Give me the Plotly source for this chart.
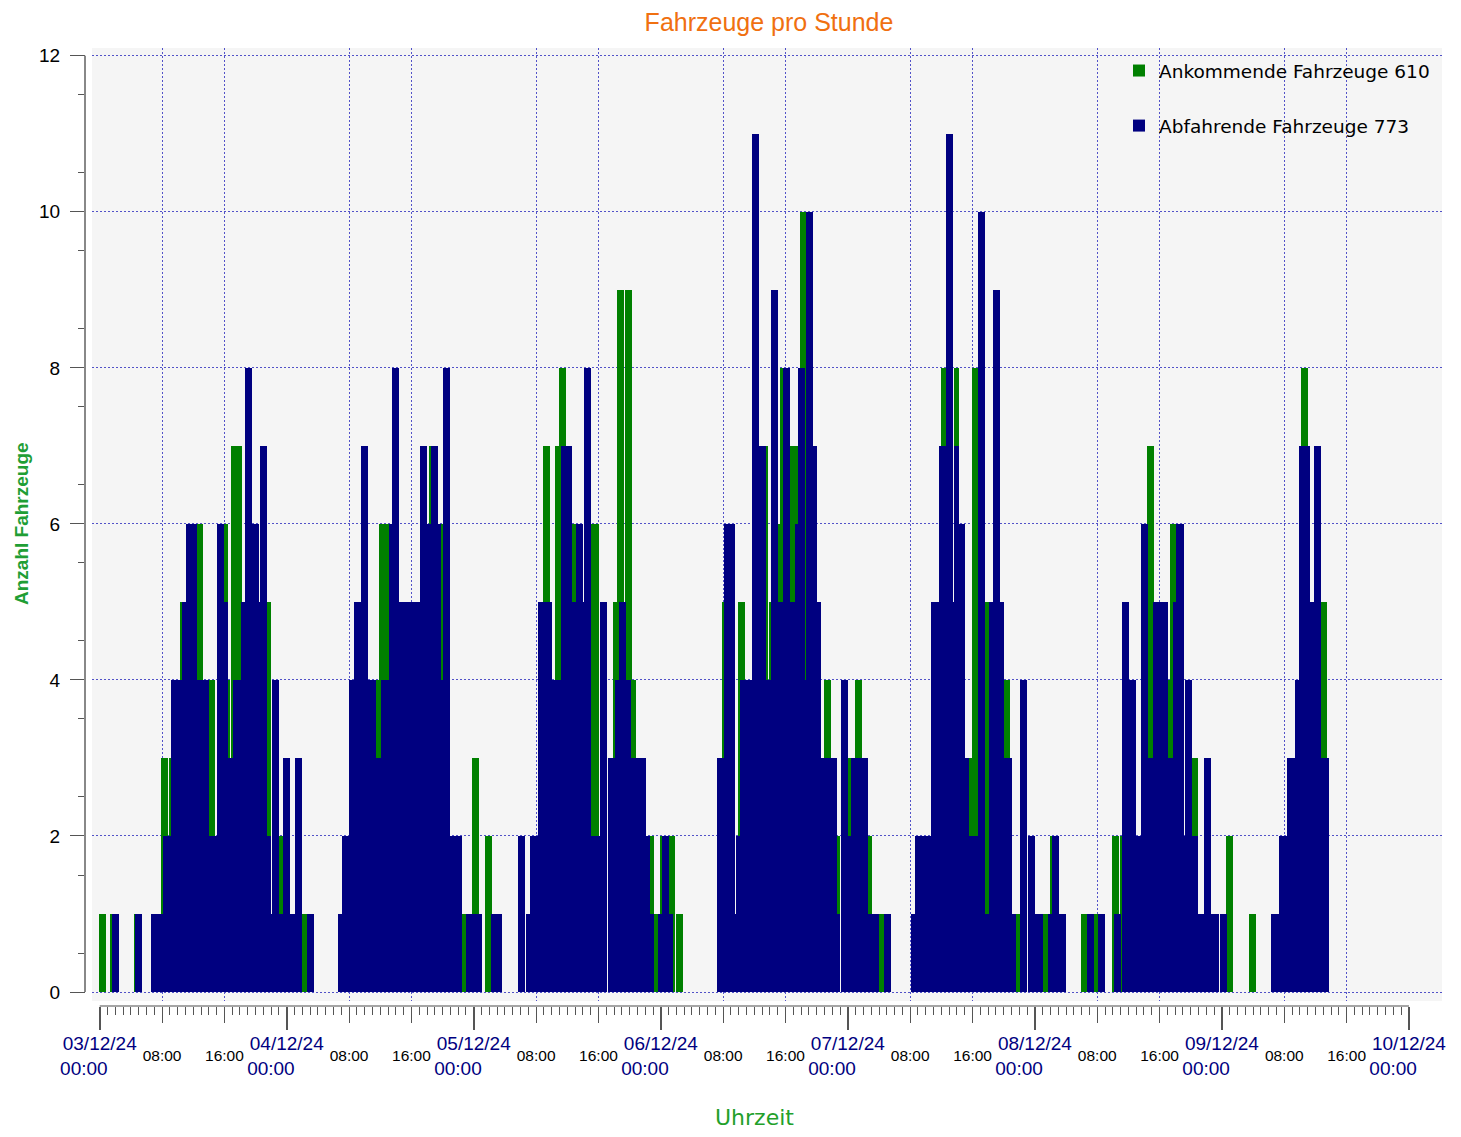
import plotly.graph_objects as go

# Time axis: hours since 03/12/24 00:00
# Ankommende Fahrzeuge (arrivals): visible segments (start hour, end hour, count)
arr_start = [-0.09, 1.32, 4.41, 7.88, 8.90, 10.36, 12.50, 14.04, 15.97, 16.48, 16.87, 21.50, 23.04,
             26.00, 35.50, 35.89, 42.30, 43.47, 46.55, 47.83, 49.38,
             56.06, 56.83, 58.37, 58.88, 60.55, 63.00, 65.82, 66.34, 67.37, 68.27, 70.58, 71.09, 71.86,
             73.02, 73.92, 79.83, 81.89, 85.48, 85.87, 87.03, 87.28, 88.57, 89.85, 92.94, 94.61,
             96.02, 96.91, 98.58, 100.00, 107.96, 109.63, 111.56, 111.94, 113.61, 116.05, 117.59,
             121.07, 121.97, 125.96, 127.63, 129.94, 130.97, 134.44, 137.14, 137.40, 140.10, 144.47,
             147.48, 154.14, 156.75]
arr_end = [0.81, 2.20, 5.30, 8.77, 9.16, 10.57, 13.27, 14.81, 16.48, 16.74, 18.28, 22.00, 23.55,
           26.64, 35.89, 37.17, 42.57, 44.11, 47.06, 48.73, 50.28,
           56.19, 57.73, 58.88, 59.78, 61.07, 64.07, 66.34, 67.24, 68.27, 68.78, 71.09, 71.60, 72.63,
           73.79, 74.82, 80.09, 82.78, 85.74, 86.13, 87.28, 87.67, 89.60, 90.62, 93.84, 95.00,
           96.40, 97.81, 99.10, 100.64, 108.60, 110.27, 111.94, 112.71, 114.13, 116.82, 118.11,
           121.71, 122.23, 126.73, 128.14, 130.84, 131.22, 135.34, 137.40, 138.17, 140.87, 145.38,
           148.39, 155.05, 157.54]
arr_count = [1, 1, 1, 3, 3, 5, 6, 4, 6, 4, 7, 5, 2,
             1, 4, 6, 7, 6, 1, 3, 2,
             2, 7, 7, 8, 6, 6, 5, 9, 9, 4, 2, 1, 2,
             2, 1, 5, 5, 7, 5, 6, 8, 7, 10, 4, 2,
             3, 4, 2, 1, 8, 8, 3, 8, 5, 4, 1,
             1, 2, 1, 1, 2, 2, 7, 4, 6, 3, 2,
             1, 8, 5]

# Abfahrende Fahrzeuge (departures): segments (start hour, end hour, count)
dep_start = [1.58, 4.54, 6.59, 8.13, 9.16, 10.57, 11.09, 12.50, 14.04, 15.07, 15.97, 16.48, 17.13, 18.07,
             18.15, 18.67, 19.57, 20.47, 20.60, 21.50, 22.00, 22.14, 23.04, 23.55,
             24.45, 25.09, 26.64, 30.62, 31.13, 32.03, 32.67, 33.57, 34.47, 35.50, 36.14, 37.17, 37.56,
             38.46, 41.15, 42.05, 42.57, 43.47, 43.73, 44.11, 45.01, 47.06,
             50.15, 53.62, 54.65, 55.16, 56.19, 57.98, 59.14, 60.55, 61.07, 61.97, 62.10, 63.00, 64.15,
             65.18, 66.08, 66.60, 67.49, 68.14, 70.07, 70.58,
             71.60, 72.12, 73.02, 79.19, 80.09, 81.50, 81.63, 82.14, 83.68, 84.58, 85.48, 86.13, 87.03,
             87.67, 88.57, 89.21, 89.60, 90.49, 90.62, 91.52, 92.04, 92.55, 94.61, 95.13,
             96.02, 96.40, 98.58, 100.64, 104.11, 104.62, 106.68, 107.70, 108.60, 109.50, 109.63, 110.27,
             111.04, 111.56, 112.71, 113.61, 114.13, 114.64, 115.54, 116.05, 117.08, 118.11, 119.14,
             120.04, 121.71, 122.23, 123.13, 126.73, 128.14, 130.20, 131.22, 132.12, 133.02, 133.67,
             134.57, 135.21, 137.14, 137.66, 138.17, 139.07, 139.20, 140.10, 140.87, 141.64, 142.54, 143.69,
             150.35, 151.26, 152.31, 153.36, 153.87, 155.31, 155.84, 156.75]
dep_end = [2.48, 5.44, 8.13, 9.16, 10.57, 11.09, 12.50, 14.04, 15.07, 15.97, 16.48, 17.13, 18.07, 18.15,
           18.67, 19.57, 20.47, 20.60, 21.50, 22.00, 22.14, 23.04, 23.55, 24.45,
           25.09, 26.00, 27.53, 31.13, 32.03, 32.67, 33.57, 34.47, 35.50, 36.14, 37.17, 37.56, 38.46,
           41.15, 42.05, 42.57, 43.47, 43.73, 44.11, 45.01, 46.55, 48.99,
           51.56, 54.52, 55.16, 56.19, 57.98, 59.14, 60.55, 61.07, 61.97, 62.10, 63.00, 64.15, 65.05,
           66.08, 66.60, 67.49, 68.14, 70.07, 70.58, 71.09,
           72.12, 73.02, 73.53, 80.09, 81.50, 81.63, 82.14, 83.68, 84.58, 85.48, 86.13, 87.03, 87.67,
           88.57, 89.21, 89.60, 90.49, 90.62, 91.52, 92.04, 92.55, 94.61, 95.00, 96.02,
           96.40, 98.58, 100.00, 101.54, 104.62, 106.68, 107.70, 108.60, 109.50, 109.63, 110.27, 111.04,
           111.56, 112.71, 113.61, 114.13, 114.64, 115.54, 116.05, 117.08, 117.59, 119.01, 120.04,
           121.07, 122.23, 123.13, 124.03, 127.63, 129.04, 131.10, 132.12, 133.02, 133.67, 134.57,
           135.21, 137.14, 137.66, 138.17, 139.07, 139.20, 140.10, 140.87, 141.64, 142.54, 143.57, 144.60,
           151.26, 152.31, 153.36, 153.87, 155.31, 155.84, 156.75, 157.80]
dep_count = [1, 1, 1, 2, 4, 5, 6, 4, 2, 6, 5, 3, 4, 3,
             5, 8, 6, 5, 7, 2, 1, 4, 1, 3,
             1, 3, 1, 1, 2, 4, 5, 7, 4, 3, 4, 6, 8,
             5, 7, 6, 7, 6, 4, 8, 2, 1,
             1, 2, 1, 2, 5, 4, 7, 5, 6, 5, 8, 2, 5,
             3, 4, 5, 4, 3, 2, 1,
             1, 2, 1, 3, 6, 1, 2, 4, 11, 7, 4, 9, 5,
             8, 5, 6, 8, 4, 10, 7, 5, 3, 1, 4,
             2, 3, 1, 1, 1, 2, 5, 7, 11, 5, 7, 6,
             3, 2, 10, 1, 5, 9, 5, 3, 1, 4, 2,
             1, 1, 2, 1, 1, 1, 1, 5, 4, 2, 6,
             3, 5, 3, 5, 6, 2, 4, 2, 1, 3, 1, 1,
             1, 2, 3, 4, 7, 5, 7, 3]

day_dates = ["03/12/24", "04/12/24", "05/12/24", "06/12/24", "07/12/24", "08/12/24", "09/12/24", "10/12/24"]
day_hours = [0, 24, 48, 72, 96, 120, 144, 168]
hour_ticks = [h + o for h in day_hours[:-1] for o in (8, 16)]
hour_labels = ["08:00" if (h % 24) == 8 else "16:00" for h in hour_ticks]
legend_arr = "Ankommende Fahrzeuge 610"
legend_dep = "Abfahrende Fahrzeuge 773"

# ---- layout geometry (pixels of the 1461x1137 window; page body has an 8px margin) ----
OFF = 8
W, H = 1461 - 2 * OFF, 1137 - 2 * OFF
ML, MR, MT, MB = 32, 2, 32, 22
PW, PH = W - ML - MR, H - MT - MB
W_REQ = W + 8  # the rendered page comes out slightly narrower than requested


def fx(p):
    return (p - OFF - ML) / PW


def fy(p):
    return (H - MB - (p - OFF)) / PH


GRID = "#5252c8"
TICKC = "#555555"
ARIAL = "Liberation Sans, Arial, sans-serif"
SANS = "DejaVu Sans, Verdana, sans-serif"
XRANGE = [-0.99, 172.24]
AXPOS = fy(1006)

fig = go.Figure()
fig.add_trace(go.Bar(
    x=arr_start, y=arr_count, width=[e - s for s, e in zip(arr_start, arr_end)], offset=0,
    marker=dict(color="#008000", line=dict(width=0)), name=legend_arr,
    legendgroup="a", hoverinfo="skip"))
fig.add_trace(go.Bar(
    x=dep_start, y=dep_count, width=[e - s for s, e in zip(dep_start, dep_end)], offset=0,
    marker=dict(color="#000080", line=dict(width=0)), name=legend_dep,
    legendgroup="b", hoverinfo="skip"))
fig.add_trace(go.Scatter(x=[0], y=[None], xaxis="x2", yaxis="y", showlegend=False,
                         hoverinfo="skip", mode="markers"))

day_text = [f"{d}<br>00:00" + "\u00a0" * 6 for d in day_dates]

fig.update_layout(
    width=W_REQ, height=H,
    margin=dict(l=ML, r=MR, t=MT, b=MB),
    paper_bgcolor="white", plot_bgcolor="#f5f5f5",
    barmode="overlay", bargap=0,
    showlegend=True,
    title=dict(text="Fahrzeuge pro Stunde", font=dict(family=ARIAL, size=25, color="#f07010"),
               x=fx(767), xref="paper", xanchor="center", y=1 - (22 - OFF) / H, yref="container",
               yanchor="middle"),
    xaxis=dict(domain=[fx(90), fx(1440)], range=XRANGE, anchor="free", position=AXPOS,
               tickmode="array", tickvals=hour_ticks, ticktext=hour_labels,
               ticks="outside", ticklen=16, tickwidth=1, tickcolor=TICKC,
               tickfont=dict(family=ARIAL, size=15.5, color="black"), ticklabelstandoff=19,
               showgrid=True, gridcolor=GRID, griddash="2px,2px", gridwidth=1,
               zeroline=False, showline=False,
               minor=dict(tickvals=list(range(0, 169)), ticks="outside", ticklen=8,
                          tickcolor=TICKC, tickwidth=1, showgrid=False)),
    xaxis2=dict(overlaying="x", range=XRANGE, anchor="free", position=AXPOS,
                tickmode="array", tickvals=day_hours, ticktext=day_text,
                ticks="outside", ticklen=23, tickwidth=2, tickcolor=TICKC,
                tickfont=dict(family=ARIAL, size=19, color="#000080"), ticklabelstandoff=-3,
                showgrid=False, zeroline=False, showline=False),
    yaxis=dict(domain=[fy(1001), fy(48)], range=[-0.115, 12.1], anchor="free", position=fx(83),
               tickmode="array", tickvals=list(range(0, 13, 2)),
               ticks="outside", ticklen=15, tickwidth=1, tickcolor=TICKC,
               tickfont=dict(family=ARIAL, size=19, color="black"), ticklabelstandoff=6,
               showgrid=True, gridcolor=GRID, griddash="2px,2px", gridwidth=1,
               zeroline=False, showline=False,
               minor=dict(tickvals=[v / 2 for v in range(1, 24, 2)], ticks="outside", ticklen=7,
                          tickcolor=TICKC, tickwidth=1, showgrid=False)),
    legend=dict(x=fx(1117), y=fy(52), xanchor="left", yanchor="top",
                bgcolor="rgba(0,0,0,0)", borderwidth=0,
                font=dict(family=SANS, size=18.5, color="black"),
                traceorder="grouped", tracegroupgap=28, itemclick=False),
    annotations=[
        dict(text="<b>Anzahl Fahrzeuge</b>", textangle=-90, x=fx(19), y=fy(524),
             xref="paper", yref="paper", showarrow=False, xanchor="center", yanchor="middle",
             font=dict(family=ARIAL, size=19, color="#1f9e35")),
        dict(text="Uhrzeit", x=fx(752), y=fy(1117), xref="paper", yref="paper",
             showarrow=False, xanchor="center", yanchor="middle",
             font=dict(family=SANS, size=22, color="#22a02a")),
    ],
    shapes=[
        dict(type="line", xref="paper", yref="y", x0=fx(83), x1=fx(83), y0=0, y1=12,
             line=dict(color="#888888", width=2)),
        dict(type="line", xref="x", yref="paper", x0=0, x1=168, y0=AXPOS, y1=AXPOS,
             line=dict(color="#888888", width=1.5)),
    ],
)

fig.write_html("out.html")
